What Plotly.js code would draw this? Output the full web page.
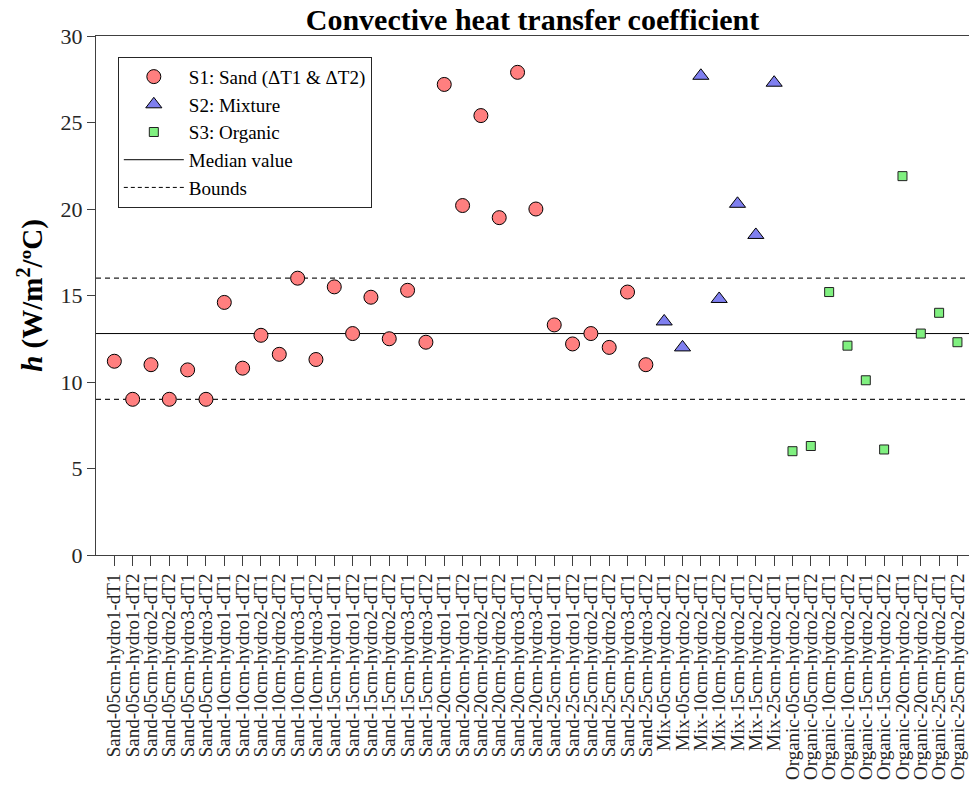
<!DOCTYPE html>
<html>
<head>
<meta charset="utf-8">
<script src="https://cdn.plot.ly/plotly-3.0.1.min.js"></script>
<style>html,body{margin:0;padding:0;background:#fff;}</style>
</head>
<body>
<div id="chart" style="width:969px;height:786px;"></div>
<script>
// ---- data ----
const sandLabels = [
  "Sand-05cm-hydro1-dT1","Sand-05cm-hydro1-dT2","Sand-05cm-hydro2-dT1","Sand-05cm-hydro2-dT2","Sand-05cm-hydro3-dT1","Sand-05cm-hydro3-dT2",
  "Sand-10cm-hydro1-dT1","Sand-10cm-hydro1-dT2","Sand-10cm-hydro2-dT1","Sand-10cm-hydro2-dT2","Sand-10cm-hydro3-dT1","Sand-10cm-hydro3-dT2",
  "Sand-15cm-hydro1-dT1","Sand-15cm-hydro1-dT2","Sand-15cm-hydro2-dT1","Sand-15cm-hydro2-dT2","Sand-15cm-hydro3-dT1","Sand-15cm-hydro3-dT2",
  "Sand-20cm-hydro1-dT1","Sand-20cm-hydro1-dT2","Sand-20cm-hydro2-dT1","Sand-20cm-hydro2-dT2","Sand-20cm-hydro3-dT1","Sand-20cm-hydro3-dT2",
  "Sand-25cm-hydro1-dT1","Sand-25cm-hydro1-dT2","Sand-25cm-hydro2-dT1","Sand-25cm-hydro2-dT2","Sand-25cm-hydro3-dT1","Sand-25cm-hydro3-dT2"
];
const sandValues = [11.2, 9.0, 11.0, 9.0, 10.7, 9.0,
                    14.6, 10.8, 12.7, 11.6, 16.0, 11.3,
                    15.5, 12.8, 14.9, 12.5, 15.3, 12.3,
                    27.2, 20.2, 25.4, 19.5, 27.9, 20.0,
                    13.3, 12.2, 12.8, 12.0, 15.2, 11.0];

const mixLabels = ["Mix-05cm-hydro2-dT1","Mix-05cm-hydro2-dT2","Mix-10cm-hydro2-dT1","Mix-10cm-hydro2-dT2",
                   "Mix-15cm-hydro2-dT1","Mix-15cm-hydro2-dT2","Mix-25cm-hydro2-dT1"];
const mixValues = [13.5, 12.0, 27.7, 14.8, 20.3, 18.5, 27.3];

const organicLabels = ["Organic-05cm-hydro2-dT1","Organic-05cm-hydro2-dT2","Organic-10cm-hydro2-dT1","Organic-10cm-hydro2-dT2",
                       "Organic-15cm-hydro2-dT1","Organic-15cm-hydro2-dT2","Organic-20cm-hydro2-dT1","Organic-20cm-hydro2-dT2",
                       "Organic-25cm-hydro2-dT1","Organic-25cm-hydro2-dT2"];
const organicValues = [6.0, 6.3, 15.2, 12.1, 10.1, 6.1, 21.9, 12.8, 14.0, 12.3];

const medianValue = 12.8;
const lowerBound = 9.0;
const upperBound = 16.0;
const yTicks = [0, 5, 10, 15, 20, 25, 30];

const allLabels = sandLabels.concat(mixLabels, organicLabels);

// ---- traces ----
const FONT = "Liberation Serif, Times New Roman, serif";
const traces = [
  {x: sandLabels, y: sandValues, type: "scatter", mode: "markers", name: "S1: Sand (ΔT1 &amp; ΔT2)",
   marker: {symbol: "circle", size: 14, color: "#FF7F7F", line: {color: "#000", width: 1}}},
  {x: mixLabels, y: mixValues, type: "scatter", mode: "markers", name: "S2: Mixture",
   marker: {symbol: "triangle-up", size: 14, color: "#7F7FEF", line: {color: "#000", width: 1}}},
  {x: organicLabels, y: organicValues, type: "scatter", mode: "markers", name: "S3: Organic",
   marker: {symbol: "square", size: 9, color: "#80F080", line: {color: "#222", width: 1}}},
  {x: [null], y: [null], type: "scatter", mode: "lines", name: "Median value",
   line: {color: "#000", width: 1}},
  {x: [null], y: [null], type: "scatter", mode: "lines", name: "Bounds",
   line: {color: "#000", width: 1, dash: "4px,3px"}}
];

const layout = {
  width: 969, height: 786,
  margin: {l: 96, r: 0, t: 36, b: 231},
  paper_bgcolor: "#fff", plot_bgcolor: "#fff",
  font: {family: FONT, color: "#262626"},
  title: {text: "<b>Convective heat transfer coefficient</b>", font: {family: FONT, size: 30, color: "#000"},
          x: 0.5, xref: "paper", y: 0.975, yref: "container", yanchor: "middle"},
  showlegend: true,
  legend: {x: 0.025, y: 0.96, xanchor: "left", yanchor: "top", bgcolor: "#fff", bordercolor: "#262626",
           borderwidth: 1, font: {family: FONT, size: 19, color: "#000"}, itemwidth: 60, tracegroupgap: 0},
  xaxis: {type: "category", categoryorder: "array", categoryarray: allLabels,
          range: [-1, 46.63], tickmode: "array", tickvals: allLabels, ticktext: allLabels,
          tickangle: -90, tickfont: {family: FONT, size: 19, color: "#262626"},
          ticks: "outside", ticklen: 10, tickcolor: "#404040", tickwidth: 1,
          showline: true, linecolor: "#404040", linewidth: 1, mirror: true,
          showgrid: false, zeroline: false, fixedrange: true},
  yaxis: {range: [0, 30], tickmode: "array", tickvals: yTicks, ticktext: yTicks.map(String),
          tickfont: {family: FONT, size: 22, color: "#262626"},
          ticks: "outside", ticklen: 8, tickcolor: "#404040", tickwidth: 1,
          showline: true, linecolor: "#404040", linewidth: 1, mirror: false,
          showgrid: false, zeroline: false,
          title: {text: "<b><i>h</i> (W/m<sup>2</sup>/ºC)</b>", font: {family: FONT, size: 29, color: "#000"}, standoff: 9}},
  shapes: [
    {type: "line", xref: "paper", x0: 0, x1: 1, yref: "y", y0: medianValue, y1: medianValue, layer: "below",
     line: {color: "#000", width: 1}},
    {type: "line", xref: "paper", x0: 0, x1: 1, yref: "y", y0: upperBound, y1: upperBound, layer: "below",
     line: {color: "#222", width: 1.2, dash: "5px,4px"}},
    {type: "line", xref: "paper", x0: 0, x1: 1, yref: "y", y0: lowerBound, y1: lowerBound, layer: "below",
     line: {color: "#222", width: 1.2, dash: "5px,4px"}}
  ]
};

Plotly.newPlot("chart", traces, layout, {displayModeBar: false, staticPlot: true});
</script>
</body>
</html>
